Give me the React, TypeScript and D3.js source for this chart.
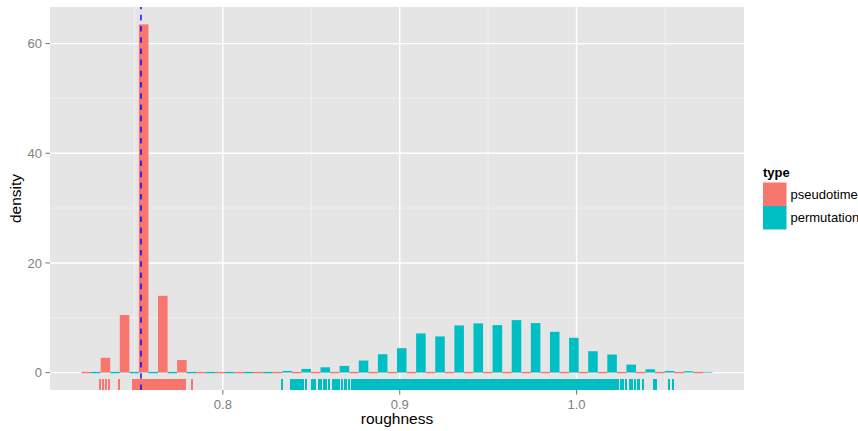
import React from "react";
import * as d3 from "d3";

// Histogram bins (left edges) and width, in roughness units
const binLefts = [
  0.7201, 0.73091, 0.74172, 0.75253, 0.76334, 0.77415, 0.78496, 0.79577, 0.80658, 0.81739,
  0.8282, 0.83901, 0.84982, 0.86063, 0.87144, 0.88225, 0.89306, 0.90387, 0.91468, 0.92549,
  0.9363, 0.94711, 0.95792, 0.96873, 0.97954, 0.99035, 1.00116, 1.01197, 1.02278, 1.03359,
  1.0444, 1.05521, 1.06602,
];
const binWidth = 0.01081;

const pseudotimeDensity = [
  0, 2.7, 10.5, 63.5, 14.0, 2.3, 0, 0, 0, 0,
  0, 0, 0, 0, 0, 0, 0, 0, 0, 0,
  0, 0, 0, 0, 0, 0, 0, 0, 0, 0,
  0, 0, 0,
];
const permutationDensity = [
  0, 0, 0, 0, 0, 0, 0, 0, 0, 0,
  0.3, 0.67, 0.97, 1.22, 2.2, 3.35, 4.45, 7.14, 6.59, 8.6,
  8.97, 8.66, 9.57, 9.03, 7.44, 6.34, 3.9, 3.29, 1.46, 0.61,
  0.3, 0.24, 0.12,
];

const pseudotimeRug = [
  0.7308, 0.7321, 0.7342, 0.7355, 0.7413,
  0.7492, 0.7495, 0.750, 0.751, 0.752, 0.753, 0.754, 0.755, 0.756, 0.757, 0.758, 0.759,
  0.760, 0.761, 0.762, 0.763, 0.764, 0.765, 0.766, 0.767, 0.768, 0.769,
  0.770, 0.771, 0.772, 0.773, 0.774, 0.775, 0.7765, 0.7775, 0.7785,
  0.7823,
];

const permutationRug = [
  0.8333, 0.8386, 0.8398, 0.8406, 0.8417, 0.8429, 0.8440, 0.8454, 0.8471,
  0.8503, 0.8510, 0.8522, 0.8541, 0.8553, 0.8572, 0.8584, 0.8598,
  0.8623, 0.8634, 0.8646, 0.8657, 0.8671, 0.8691, 0.8699, 0.8713, 0.8730,
  0.8742, 0.8753, 0.8764, 0.8776, 0.8787, 0.8798, 0.8809, 0.8818, 0.8826,
  0.8838, 0.8849, 0.8860, 0.8869, 0.8877,
  0.889, 0.890, 0.891, 0.892, 0.893, 0.894, 0.895, 0.896, 0.897, 0.898, 0.899,
  0.900, 0.901, 0.902, 0.903, 0.904, 0.905, 0.906, 0.907, 0.908, 0.909,
  0.910, 0.911, 0.912, 0.913, 0.914, 0.915, 0.916, 0.917, 0.918, 0.919,
  0.920, 0.921, 0.922, 0.923, 0.924, 0.925, 0.926, 0.927, 0.928, 0.929,
  0.930, 0.931, 0.932, 0.933, 0.934, 0.935, 0.936, 0.937, 0.938, 0.939,
  0.940, 0.941, 0.942, 0.943, 0.944, 0.945, 0.946, 0.947, 0.948, 0.949,
  0.950, 0.951, 0.952, 0.953, 0.954, 0.955, 0.956, 0.957, 0.958, 0.959,
  0.960, 0.961, 0.962, 0.963, 0.964, 0.965, 0.966, 0.967, 0.968, 0.969,
  0.970, 0.971, 0.972, 0.973, 0.974, 0.975, 0.976, 0.977, 0.978, 0.979,
  0.980, 0.981, 0.982, 0.983, 0.984, 0.985, 0.986, 0.987, 0.988, 0.989,
  0.990, 0.991, 0.992, 0.993, 0.994, 0.995, 0.996, 0.997, 0.998, 0.999,
  1.000, 1.001, 1.002, 1.003, 1.004, 1.005, 1.006, 1.007, 1.008, 1.009,
  1.010, 1.011,
  1.0118, 1.0126, 1.0135, 1.0146, 1.0154, 1.0163, 1.0174, 1.0185, 1.0197, 1.0205,
  1.0214, 1.0225, 1.0236, 1.0250, 1.0264, 1.0279, 1.0304, 1.0312, 1.0329, 1.0345,
  1.0355, 1.0373, 1.0436, 1.0448, 1.0521, 1.0546,
];

const xTicks = [0.8, 0.9, 1.0];
const xTickLabels = ["0.8", "0.9", "1.0"];
const xMinor = [0.75, 0.85, 0.95, 1.05];
const yTicks = [0, 20, 40, 60];
const yMinor = [10, 30, 50];
const vlineX = 0.7537;
const seriesNames = ["pseudotime", "permutation"];
const seriesColors = ["#F8766D", "#00BFC4"];

const FONT = "'Liberation Sans', Arial, Helvetica, sans-serif";

export default function App() {
  const W = 858;
  const H = 431;
  const P = { l: 50, r: 744, t: 7, b: 390 };

  const xLo = binLefts[0];
  const xHi = binLefts[binLefts.length - 1] + binWidth;
  const xPad = (xHi - xLo) * 0.05;
  const x = d3.scaleLinear().domain([xLo - xPad, xHi + xPad]).range([P.l, P.r]);
  const yMax = d3.max([...pseudotimeDensity, ...permutationDensity]) as number;
  const y = d3.scaleLinear().domain([-0.05 * yMax, 1.05 * yMax]).range([P.b, P.t]);

  const series = [pseudotimeDensity, permutationDensity];
  const rugs = [pseudotimeRug, permutationRug];
  const rugTop = P.b - 0.03 * (P.b - P.t);
  const y0 = y(0);

  return (
    <svg
      width={W}
      height={H}
      style={{ position: "absolute", left: 0, top: 0, background: "#fff" }}
      fontFamily={FONT}
    >
      <defs>
        <clipPath id="panelClip">
          <rect x={P.l} y={P.t} width={P.r - P.l} height={P.b - P.t} />
        </clipPath>
      </defs>
      <rect x={P.l} y={P.t} width={P.r - P.l} height={P.b - P.t} fill="#E5E5E5" />
      <g clipPath="url(#panelClip)">
        {xMinor.map((v) => (
          <line key={"xm" + v} x1={x(v)} x2={x(v)} y1={P.t} y2={P.b} stroke="#F2F2F2" strokeWidth={0.8} />
        ))}
        {yMinor.map((v) => (
          <line key={"ym" + v} x1={P.l} x2={P.r} y1={y(v)} y2={y(v)} stroke="#F2F2F2" strokeWidth={0.8} />
        ))}
        {xTicks.map((v) => (
          <line key={"xM" + v} x1={x(v)} x2={x(v)} y1={P.t} y2={P.b} stroke="#FFFFFF" strokeWidth={1.4} />
        ))}
        {yTicks.map((v) => (
          <line key={"yM" + v} x1={P.l} x2={P.r} y1={y(v)} y2={y(v)} stroke="#FFFFFF" strokeWidth={1.4} />
        ))}
        {series.map((vals, s) =>
          vals.map((v, i) => {
            const x0 = x(binLefts[i] + (s * binWidth) / 2);
            const x1 = x(binLefts[i] + ((s + 1) * binWidth) / 2);
            if (v === 0) {
              return (
                <rect key={`b${s}-${i}`} x={x0} y={y0 - 0.7} width={x1 - x0} height={1.4} fill={seriesColors[s]} />
              );
            }
            return (
              <rect key={`b${s}-${i}`} x={x0} y={y(v)} width={x1 - x0} height={y0 - y(v)} fill={seriesColors[s]} />
            );
          })
        )}
        <g shapeRendering="crispEdges">
          {rugs.map((vals, s) =>
            vals.map((v, i) => (
              <line
                key={`r${s}-${i}`}
                x1={x(v)}
                x2={x(v)}
                y1={rugTop}
                y2={P.b}
                stroke={seriesColors[s]}
                strokeWidth={2}
              />
            ))
          )}
        </g>
        <line
          x1={x(vlineX)}
          x2={x(vlineX)}
          y1={P.b}
          y2={P.t}
          stroke="#0000FF"
          strokeWidth={1.4}
          strokeDasharray="5.6,5.6"
        />
      </g>
      {/* x axis */}
      {xTicks.map((v, i) => (
        <g key={"xt" + v}>
          <line x1={x(v)} x2={x(v)} y1={P.b} y2={P.b + 4.5} stroke="#7F7F7F" strokeWidth={1.1} />
          <text x={x(v)} y={P.b + 19} textAnchor="middle" fontSize={13} fill="#7F7F7F">
            {xTickLabels[i]}
          </text>
        </g>
      ))}
      {yTicks.map((v) => (
        <g key={"yt" + v}>
          <line x1={P.l - 4.5} x2={P.l} y1={y(v)} y2={y(v)} stroke="#7F7F7F" strokeWidth={1.1} />
          <text x={P.l - 8} y={y(v)} dy="0.36em" textAnchor="end" fontSize={13} fill="#7F7F7F">
            {v}
          </text>
        </g>
      ))}
      <text x={(P.l + P.r) / 2} y={424} textAnchor="middle" fontSize={15.5} fill="#000">
        roughness
      </text>
      <text
        transform={`translate(${21},${(P.t + P.b) / 2}) rotate(-90)`}
        textAnchor="middle"
        fontSize={15.5}
        fill="#000"
      >
        density
      </text>
      {/* legend */}
      <text x={763} y={177} fontSize={13} fontWeight="bold" fill="#000">
        type
      </text>
      {seriesNames.map((n, i) => (
        <g key={n}>
          <rect x={763} y={182.5 + i * 23.5} width={23.5} height={23.5} fill={seriesColors[i]} />
          <text x={790.5} y={182.5 + i * 23.5 + 11.75} dy="0.36em" fontSize={13} fill="#000">
            {n}
          </text>
        </g>
      ))}
    </svg>
  );
}
